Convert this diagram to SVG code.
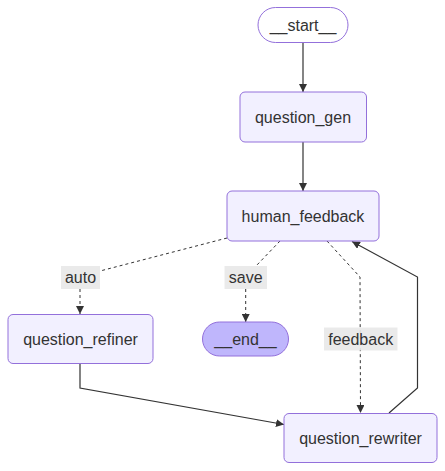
<svg xmlns="http://www.w3.org/2000/svg" width="445" height="471" viewBox="0 0 445 471">
<defs>
<marker id="arr" viewBox="0 0 10 10" refX="10" refY="5" markerUnits="userSpaceOnUse" markerWidth="8" markerHeight="8" orient="auto">
<path d="M0,0 L10,5 L0,10 z" fill="#333333"/>
</marker>
<style>
.node rect{fill:#f2f0ff;stroke:#9370db;stroke-width:1}
.node text,.lbl text{font-family:"Liberation Sans",Arial,sans-serif;font-size:16px;fill:#333333;text-anchor:middle}
.e{fill:none;stroke:#333333;stroke-width:1.2}
.d{stroke-dasharray:3 3;stroke-width:1}
.lbl rect{fill:#e8e8e8;fill-opacity:0.9}
</style>
</defs>
<rect width="445" height="471" fill="#ffffff"/>
<g id="edges">
<path class="e" d="M303,42 L303,92" marker-end="url(#arr)"/>
<path class="e" d="M303,142 L303,191" marker-end="url(#arr)"/>
<path class="e d" d="M227,238 L100,271 M80,289 L80,314" marker-end="url(#arr)"/>
<path class="e d" d="M280,241 L256,266 M245.7,289 L245.7,322" marker-end="url(#arr)"/>
<path class="e d" d="M327,241 L360,277 L360.5,413" marker-end="url(#arr)"/>
<path class="e" d="M80,363 L80,388 L284,424.5" marker-end="url(#arr)"/>
<path class="e" d="M389,413 L417.5,388 L417.5,277 L352,241.5" marker-end="url(#arr)"/>
</g>
<g id="edge-labels">
<g class="lbl"><rect x="61" y="266" width="39" height="23"/><text x="80.5" y="283">auto</text></g>
<g class="lbl"><rect x="224.5" y="266" width="42.5" height="23"/><text x="245.7" y="283">save</text></g>
<g class="lbl"><rect x="324" y="327.5" width="73.5" height="23"/><text x="360.7" y="344.5">feedback</text></g>
</g>
<g id="start" class="node"><rect x="258" y="7.5" width="90" height="35" rx="17.5" ry="17.5" style="fill:#ffffff;fill-opacity:0"/><text x="303" y="30.5">__start__</text></g>
<g id="question_gen" class="node"><rect x="240" y="92" width="126.5" height="50" rx="5" ry="5"/><text x="303" y="122.5">question_gen</text></g>
<g id="human_feedback" class="node"><rect x="227" y="191" width="152" height="50" rx="5" ry="5"/><text x="303" y="221.5">human_feedback</text></g>
<g id="question_refiner" class="node"><rect x="8" y="314.5" width="145" height="49" rx="5" ry="5"/><text x="80.5" y="344.5">question_refiner</text></g>
<g id="end" class="node"><rect x="202.5" y="322" width="86" height="34" rx="17" ry="17" style="fill:#bfb6fc"/><text x="245.5" y="344.5">__end__</text></g>
<g id="question_rewriter" class="node"><rect x="284" y="413.5" width="153" height="49" rx="5" ry="5"/><text x="360.5" y="443.5">question_rewriter</text></g>
</svg>
